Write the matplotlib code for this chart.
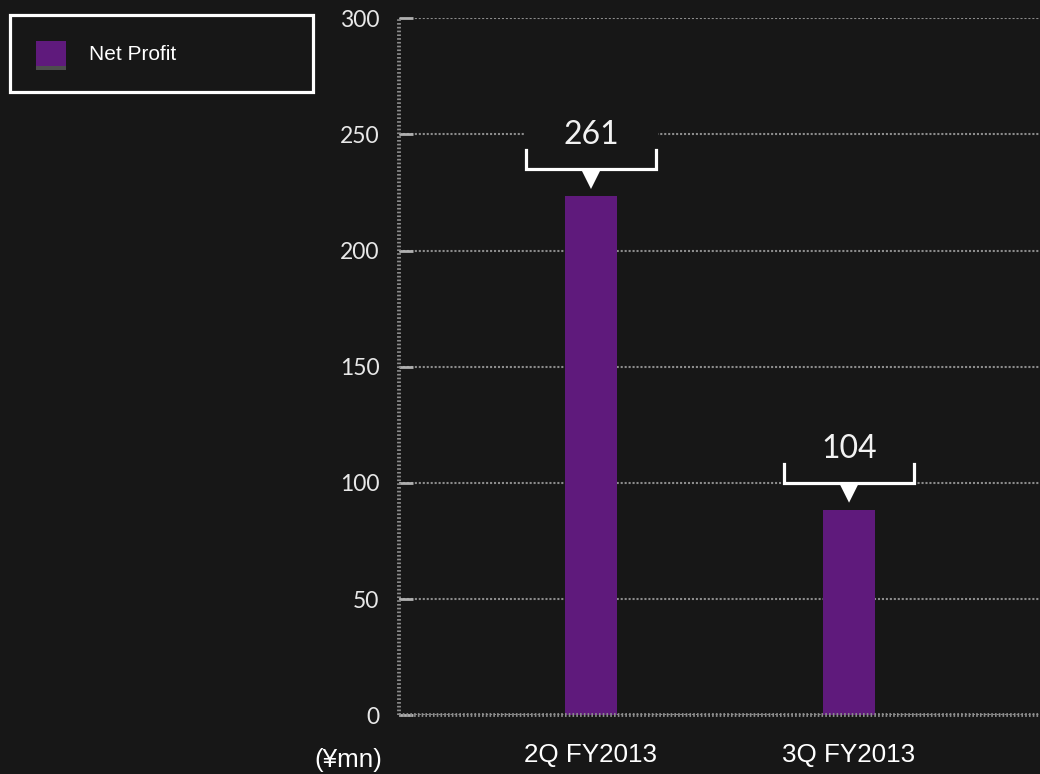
"""Net Profit bar chart, dark theme."""
import matplotlib

matplotlib.use("Agg")
import matplotlib.pyplot as plt  # noqa: E402
from matplotlib import patheffects  # noqa: E402
from matplotlib.patches import Polygon, Rectangle  # noqa: E402

# data
categories = ["2Q FY2013", "3Q FY2013"]
bar_heights = [223.5, 88.5]       # drawn height of the bars
callout_labels = ["261", "104"]   # numbers printed above the bars
y_ticks = [0, 50, 100, 150, 200, 250, 300]
series_name = "Net Profit"
unit_label = "(¥mn)"

BG = "#171717"
BAR = "#5f1a7c"
GRID = "#8c8c8c"

W, H, DPI = 1040, 774, 100
fig = plt.figure(figsize=(W / DPI, H / DPI), dpi=DPI, facecolor=BG)
ax_left, ax_bottom = 399 / W, (H - 715.3) / H
ax_w, ax_h = 1 - ax_left, (715.3 - 18.3) / H
ax = fig.add_axes([ax_left, ax_bottom, ax_w, ax_h], facecolor=BG)

xs = list(range(len(categories)))
xlim = (-0.744, 1.740)
ylim = (0, 300)
ax.set_xlim(*xlim)
ax.set_ylim(*ylim)

bars = ax.bar(xs, bar_heights, width=0.198, color=BAR, zorder=2, label=series_name)

# grid + dotted spines
ax.set_axisbelow(True)
ax.set_yticks(y_ticks)
ax.yaxis.grid(True, color=GRID, linestyle=(0, (1, 0.9)), linewidth=1.5)
ax.xaxis.grid(False)
for side in ("top", "right"):
    ax.spines[side].set_visible(False)
for side in ("left", "bottom"):
    sp = ax.spines[side]
    sp.set_color(GRID)
    sp.set_linewidth(2.8)
    sp.set_linestyle((0, (0.42, 0.55)))
    sp.set_capstyle("butt")

ax.tick_params(axis="y", direction="in", length=10, width=2, color="#b0b0b0",
               pad=14, labelsize=16.5, labelcolor="#e8e8e8")
for lbl in ax.get_yticklabels():
    lbl.set_family(["Lato", "DejaVu Sans"])
ax.tick_params(axis="x", length=0, pad=20, labelsize=18.7, labelcolor="white")
ax.set_xticks(xs)
ax.set_xticklabels(categories, family="Liberation Sans")

fig.text(348 / W, 1 - 760 / H, unit_label, ha="center", va="center",
         fontsize=18.7, color="white", family="Liberation Sans")

# callout brackets above bars (offsets in pixels)
px_x = (xlim[1] - xlim[0]) / (ax_w * W)
px_y = (ylim[1] - ylim[0]) / (ax_h * H)
for x, top, txt in zip(xs, bar_heights, callout_labels):
    base = top + 27 * px_y
    half = 65 * px_x
    ax.add_patch(Rectangle((x - 67 * px_x, base - 2 * px_y), 134 * px_x, 50 * px_y,
                           facecolor=BG, edgecolor="none", zorder=1.5))
    ax.plot([x - half, x - half, x + half, x + half],
            [base + 19 * px_y, base, base, base + 19 * px_y],
            color="white", linewidth=2.3, solid_joinstyle="miter", zorder=3)
    ax.add_patch(Polygon([(x - 10 * px_x, base), (x + 10 * px_x, base),
                          (x, base - 20 * px_y)], closed=True,
                         facecolor="white", edgecolor="none", zorder=3))
    ax.text(x, base + 34 * px_y, txt, ha="center", va="center", fontsize=23,
            color="#f2f2f2", family=["Lato", "DejaVu Sans"], zorder=3)

# legend box in the upper left corner
leg = ax.legend(handles=[bars], loc="center left",
                bbox_to_anchor=(10 / W, 1 - 92 / H, 303 / W, 77 / H),
                bbox_transform=fig.transFigure, mode="expand", borderaxespad=0,
                fancybox=False, facecolor=BG, edgecolor="white", framealpha=1,
                prop={"family": "Liberation Sans", "size": 15},
                handlelength=1.45, handleheight=1.45, handletextpad=1.1,
                borderpad=1.25)
leg.get_frame().set_linewidth(2.3)
for t in leg.get_texts():
    t.set_color("white")
leg.legend_handles[0].set_path_effects([
    patheffects.SimplePatchShadow(offset=(0, -3), shadow_rgbFace="#4d4d4d", alpha=1),
    patheffects.Normal(),
])

fig.savefig("out.png", dpi=DPI, facecolor=BG)
